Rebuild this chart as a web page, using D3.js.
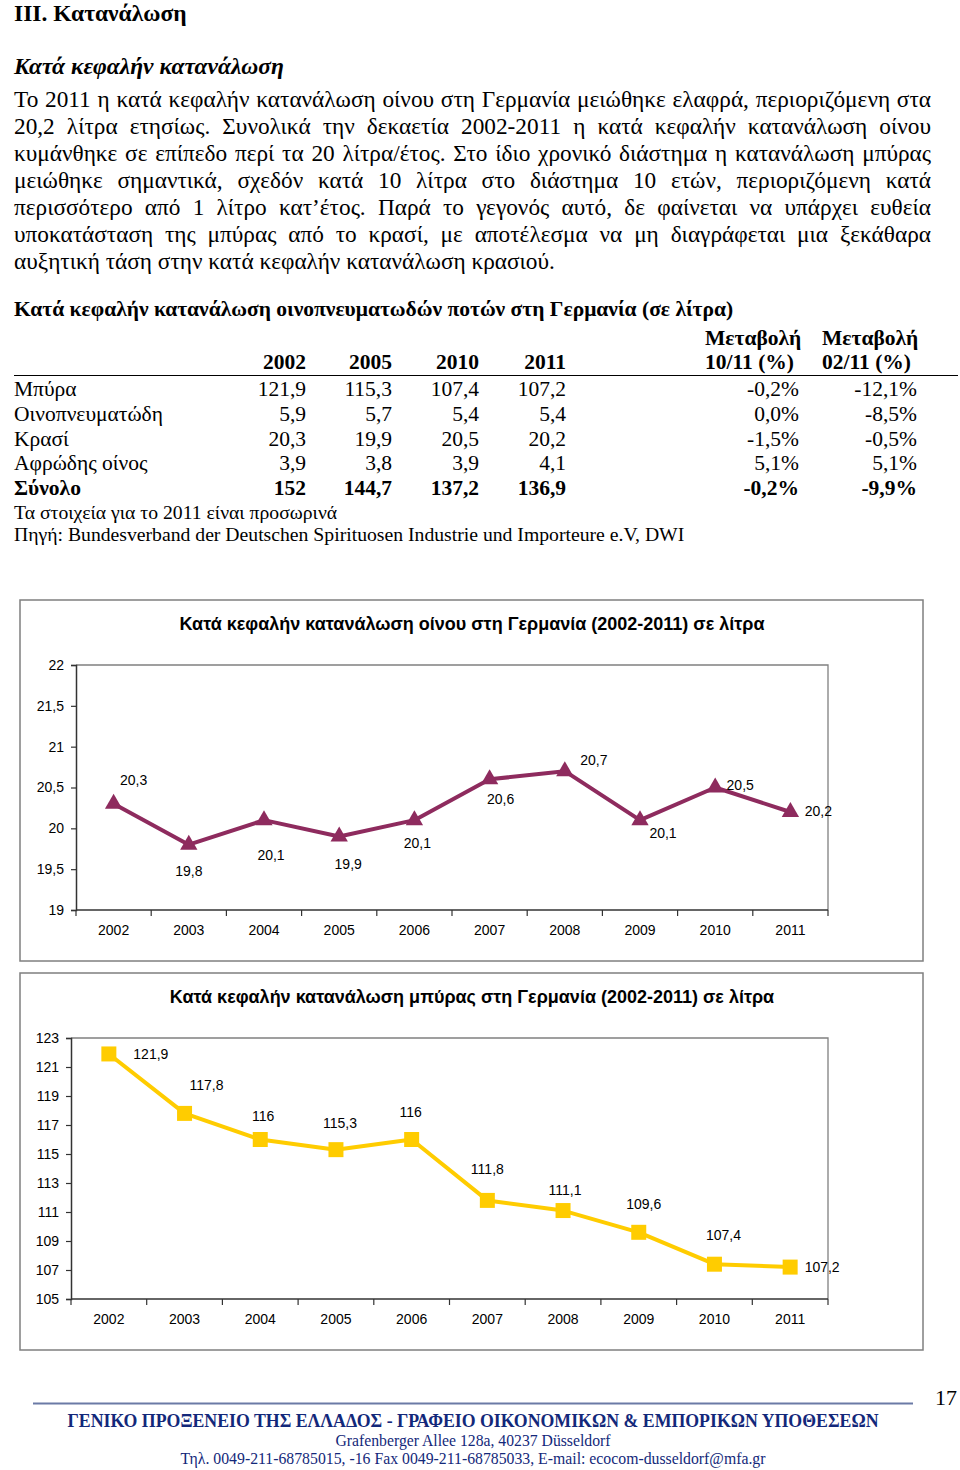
<!DOCTYPE html>
<html><head><meta charset="utf-8">
<script src="https://cdn.jsdelivr.net/npm/d3@7"></script>
<style>
html,body{margin:0;padding:0;background:#fff;}
svg{display:block;}
</style></head>
<body>
<svg id="page" width="960" height="1470"></svg>
<script>
// ---------- DATA ----------
const years = ["2002","2003","2004","2005","2006","2007","2008","2009","2010","2011"];
const wineValues = [20.3,19.8,20.1,19.9,20.1,20.6,20.7,20.1,20.5,20.2];
const beerValues = [121.9,117.8,116,115.3,116,111.8,111.1,109.6,107.4,107.2];
const wineTicks = [19,19.5,20,20.5,21,21.5,22];
const beerTicks = [105,107,109,111,113,115,117,119,121,123];

const tableYears = ["2002","2005","2010","2011"];
const tableCategories = ["Μπύρα","Οινοπνευματώδη","Κρασί","Αφρώδης οίνος","Σύνολο"];
const tableValues = [
  ["121,9","115,3","107,4","107,2"],
  ["5,9","5,7","5,4","5,4"],
  ["20,3","19,9","20,5","20,2"],
  ["3,9","3,8","3,9","4,1"],
  ["152","144,7","137,2","136,9"]
];
const change1011 = ["-0,2%","0,0%","-1,5%","5,1%","-0,2%"];
const change0211 = ["-12,1%","-8,5%","-0,5%","5,1%","-9,9%"];

const paragraphLines = [
  "Το 2011 η κατά κεφαλήν κατανάλωση οίνου στη Γερμανία μειώθηκε ελαφρά, περιοριζόμενη στα",
  "20,2 λίτρα ετησίως. Συνολικά την δεκαετία 2002-2011 η κατά κεφαλήν κατανάλωση οίνου",
  "κυμάνθηκε σε επίπεδο περί τα 20 λίτρα/έτος. Στο ίδιο χρονικό διάστημα η κατανάλωση μπύρας",
  "μειώθηκε σημαντικά, σχεδόν κατά 10 λίτρα στο διάστημα 10 ετών, περιοριζόμενη κατά",
  "περισσότερο από 1 λίτρο κατ’έτος. Παρά το γεγονός αυτό, δε φαίνεται να υπάρχει ευθεία",
  "υποκατάσταση της μπύρας από το κρασί, με αποτέλεσμα να μη διαγράφεται μια ξεκάθαρα",
  "αυξητική τάση στην κατά κεφαλήν κατανάλωση κρασιού."
];

// ---------- LAYOUT (label placement offsets, px) ----------
const wineLabelOffsets = [[20,-24],[0,26],[7,35],[9,27],[3,23],[11,20],[29,-11],[23,13],[25,-3],[28,-1]];
const beerLabelOffsets = [[42,0],[22,-28],[3,-24],[4,-27],[-1,-28],[0,-31],[2,-21],[5,-28],[9,-29],[32,0]];

const SERIF = "'Liberation Serif','Times New Roman',serif";
const SANS = "'Liberation Sans',Arial,sans-serif";
const svg = d3.select("#page");
const fmt = v => String(v).replace(".", ",");

function text(x, y, s, opts={}) {
  const t = svg.append("text").attr("x", x).attr("y", y).text(s)
    .attr("font-family", opts.family || SERIF)
    .attr("font-size", opts.size || 20)
    .attr("fill", opts.fill || "#000");
  if (opts.weight) t.attr("font-weight", opts.weight);
  if (opts.style) t.attr("font-style", opts.style);
  if (opts.anchor) t.attr("text-anchor", opts.anchor);
  return t;
}

// ---------- HEADINGS & PARAGRAPH ----------
text(14, 21, "III. Κατανάλωση", {size: 23.5, weight: "bold"});
text(14, 74, "Κατά κεφαλήν κατανάλωση", {size: 23.5, weight: "bold", style: "italic"});

const parLeft = 14, parRight = 931;
paragraphLines.forEach((line, i) => {
  const t = text(parLeft, 107 + i * 27, line, {size: 23.3});
  if (i < paragraphLines.length - 1) {
    const w = t.node().getComputedTextLength();
    const spaces = (line.match(/ /g) || []).length;
    t.attr("word-spacing", (parRight - parLeft - w) / spaces);
  }
});

// ---------- TABLE ----------
const TS = 21.5;
text(14, 316, "Κατά κεφαλήν κατανάλωση οινοπνευματωδών ποτών στη Γερμανία (σε λίτρα)", {size: TS, weight: "bold"});
const colRight = [306, 392, 479, 566];
tableYears.forEach((y, j) => text(colRight[j], 369, y, {size: TS, weight: "bold", anchor: "end"}));
text(705, 345, "Μεταβολή", {size: TS, weight: "bold"});
text(705, 369, "10/11 (%)", {size: TS, weight: "bold"});
text(822, 345, "Μεταβολή", {size: TS, weight: "bold"});
text(822, 369, "02/11 (%)", {size: TS, weight: "bold"});
svg.append("line").attr("x1", 14).attr("x2", 958).attr("y1", 375.5).attr("y2", 375.5)
  .attr("stroke", "#000").attr("stroke-width", 1.2);
tableCategories.forEach((c, i) => {
  const yb = 396 + i * 24.8;
  const bold = i === tableCategories.length - 1 ? "bold" : null;
  text(14, yb, c, {size: TS, weight: bold});
  tableValues[i].forEach((v, j) => text(colRight[j], yb, v, {size: TS, weight: bold, anchor: "end"}));
  text(799, yb, change1011[i], {size: TS, weight: bold, anchor: "end"});
  text(917, yb, change0211[i], {size: TS, weight: bold, anchor: "end"});
});
text(14, 519, "Τα στοιχεία για το 2011 είναι προσωρινά", {size: 19.7});
text(14, 541, "Πηγή: Bundesverband der Deutschen Spirituosen Industrie und Importeure e.V, DWI", {size: 19.7});

// ---------- CHARTS ----------
function lineChart(cfg) {
  const g = svg.append("g");
  g.append("rect").attr("x", 20).attr("y", cfg.boxTop).attr("width", 903).attr("height", cfg.boxBottom - cfg.boxTop)
    .attr("fill", "#fff").attr("stroke", "#7f7f7f").attr("stroke-width", 1.5);
  g.append("text").attr("x", 472).attr("y", cfg.titleY).attr("text-anchor", "middle")
    .attr("font-family", SANS).attr("font-weight", "bold").attr("font-size", 18).text(cfg.title);

  const x = d3.scaleBand().domain(years).range([cfg.left, cfg.right]).padding(0);
  const y = d3.scaleLinear().domain(cfg.domain).range([cfg.bottom, cfg.top]);

  g.append("path").attr("d", `M${cfg.left},${cfg.top}H${cfg.right}V${cfg.bottom}`)
    .attr("fill", "none").attr("stroke", "#808080").attr("stroke-width", 1.3);

  const yAxis = g.append("g").attr("transform", `translate(${cfg.left},0)`)
    .call(d3.axisLeft(y).tickValues(cfg.ticks).tickFormat(fmt).tickSize(5).tickPadding(7));
  const xAxis = g.append("g").attr("transform", `translate(0,${cfg.bottom})`)
    .call(d3.axisBottom(x).tickSize(0).tickPadding(15));
  const bounds = years.map(d => x(d)).concat([cfg.right]);
  g.selectAll(".xt").data(bounds).enter().append("line")
    .attr("x1", d => d).attr("x2", d => d).attr("y1", cfg.bottom).attr("y2", cfg.bottom + 6)
    .attr("stroke", "#333").attr("stroke-width", 1.2);
  [yAxis, xAxis].forEach(a => {
    a.select(".domain").attr("stroke", "#333").attr("stroke-width", 1.5);
    a.selectAll(".tick line").attr("stroke", "#333").attr("stroke-width", 1.2);
    a.selectAll("text").attr("font-family", SANS).attr("font-size", 14).attr("fill", "#000");
  });
  xAxis.select(".domain").attr("d", `M${cfg.left},0H${cfg.right}`);

  const cx = d => x(d) + x.bandwidth() / 2;
  const pts = years.map((d, i) => [cx(d), y(cfg.values[i])]);
  g.append("path").datum(pts).attr("d", d3.line())
    .attr("fill", "none").attr("stroke", cfg.color).attr("stroke-width", 4).attr("stroke-linejoin", "round");
  g.selectAll(".mk").data(pts).enter().append("path")
    .attr("transform", d => `translate(${d[0]},${d[1]})`)
    .attr("d", d3.symbol().type(cfg.symbol).size(cfg.symbolSize))
    .attr("fill", cfg.color);
  g.selectAll(".lbl").data(pts).enter().append("text")
    .attr("x", (d, i) => d[0] + cfg.offsets[i][0])
    .attr("y", (d, i) => d[1] + cfg.offsets[i][1] + 5)
    .attr("text-anchor", "middle").attr("font-family", SANS).attr("font-size", 14)
    .text((d, i) => fmt(cfg.values[i]));
}

lineChart({
  boxTop: 600, boxBottom: 961, titleY: 630,
  title: "Κατά κεφαλήν κατανάλωση οίνου στη Γερμανία (2002-2011) σε λίτρα",
  left: 76, right: 828, top: 665, bottom: 910,
  domain: [19, 22], ticks: wineTicks, values: wineValues,
  color: "#8e2b5e", symbol: d3.symbolTriangle, symbolSize: 130, offsets: wineLabelOffsets
});
lineChart({
  boxTop: 973, boxBottom: 1350, titleY: 1003,
  title: "Κατά κεφαλήν κατανάλωση μπύρας στη Γερμανία (2002-2011) σε λίτρα",
  left: 71, right: 828, top: 1038, bottom: 1299,
  domain: [105, 123], ticks: beerTicks, values: beerValues,
  color: "#ffcc00", symbol: d3.symbolSquare, symbolSize: 225, offsets: beerLabelOffsets
});

// ---------- FOOTER ----------
svg.append("line").attr("x1", 33).attr("x2", 913).attr("y1", 1403.5).attr("y2", 1403.5)
  .attr("stroke", "#6b7aa6").attr("stroke-width", 2);
text(946, 1405, "17", {size: 22, anchor: "middle"});
const navy = "#13287a";
text(473, 1427, "ΓΕΝΙΚΟ ΠΡΟΞΕΝΕΙΟ ΤΗΣ ΕΛΛΑΔΟΣ - ΓΡΑΦΕΙΟ ΟΙΚΟΝΟΜΙΚΩΝ &  ΕΜΠΟΡΙΚΩΝ ΥΠΟΘΕΣΕΩΝ",
  {size: 18, weight: "bold", anchor: "middle", fill: navy})
  .attr("textLength", 811).attr("lengthAdjust", "spacingAndGlyphs");
text(473, 1446, "Grafenberger Allee 128a, 40237 Düsseldorf", {size: 16, anchor: "middle", fill: navy})
  .attr("textLength", 275).attr("lengthAdjust", "spacingAndGlyphs");
text(473, 1464, "Τηλ. 0049-211-68785015, -16  Fax 0049-211-68785033, E-mail: ecocom-dusseldorf@mfa.gr",
  {size: 16, anchor: "middle", fill: navy})
  .attr("textLength", 585).attr("lengthAdjust", "spacingAndGlyphs");
</script>
</body></html>
